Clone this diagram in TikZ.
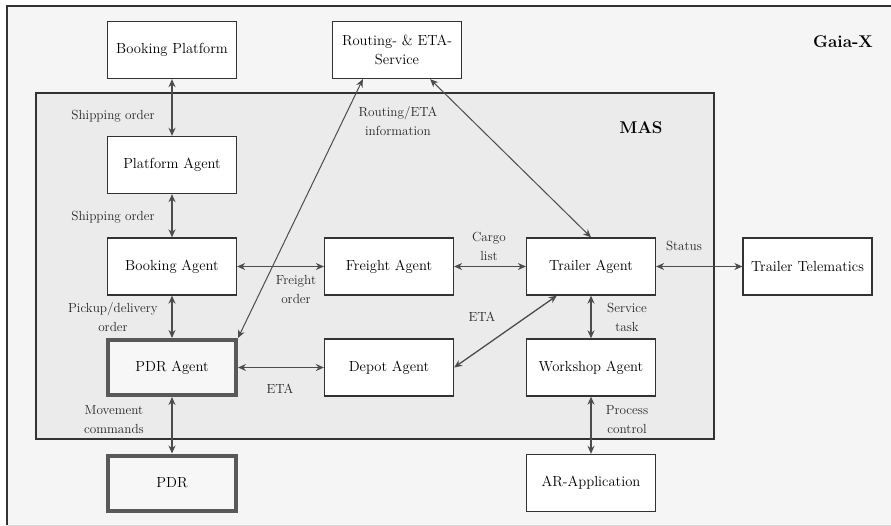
\documentclass[tikz,border=0pt]{standalone}
\usetikzlibrary{arrows.meta}
\begin{document}
\begin{tikzpicture}[x=1pt,y=-1pt,
  box/.style={draw=black!80, line width=1.3pt, fill=white, minimum width=129pt, minimum height=57pt, inner sep=2pt, align=center, font=\fontsize{14.6}{19}\selectfont},
  thickbox/.style={box, draw=black!65, line width=4pt, fill=black!3, minimum width=128pt, minimum height=55pt},
  lbl/.style={align=center, font=\fontsize{13.2}{19}\selectfont, text=black!85, inner sep=0pt},
  ttl/.style={font=\fontsize{17}{20}\selectfont\bfseries, inner sep=0pt},
  bi/.style={{Stealth[length=8pt,width=7pt]}-{Stealth[length=8pt,width=7pt]}, draw=black!70, line width=1.6pt},
  bithin/.style={bi, line width=0.8pt}]
\useasboundingbox (0,0) rectangle (891,526);
\clip (0,0) rectangle (891,526);
% Gaia-X frame
\fill[black!4] (7,6) rectangle (895,525);
\draw[black!80, line width=1.3pt] (895,6) -- (7,6) -- (7,525);
\draw[black!15, line width=1pt] (7,525) -- (895,525);
% MAS frame
\draw[fill=black!8, draw=black!80, line width=1.3pt] (36,93) rectangle (714,439);
\node[ttl] (gaia) at (843,42) {Gaia-X};
\node[ttl] (mas) at (641,128) {MAS};
% nodes
\node[box] (bp) at (172,50) {Booking Platform};
\node[box] (rs) at (397,50) {Routing- \& ETA-\\Service};
\node[box] (pa) at (172,165) {Platform Agent};
\node[box] (ba) at (172,266.5) {Booking Agent};
\node[box] (fa) at (389,266.5) {Freight Agent};
\node[box] (ta) at (591,266.5) {Trailer Agent};
\node[box] (tt) at (807.5,266.5) {Trailer Telematics};
\node[thickbox] (pdra) at (172,367.5) {PDR Agent};
\node[box] (da) at (389,367.5) {Depot Agent};
\node[box] (wa) at (591,367.5) {Workshop Agent};
\node[thickbox] (pdr) at (172,483) {PDR};
\node[box] (ar) at (591,483) {AR-Application};
% connectors
\draw[bi] (bp.south) -- (pa.north);
\draw[bi] (pa.south) -- (ba.north);
\draw[bi] (ba.south) -- (pdra.north);
\draw[bi] (pdra.south) -- (pdr.north);
\draw[bithin] (ba.east) -- (fa.west);
\draw[bithin] (fa.east) -- (ta.west);
\draw[bithin] (ta.east) -- (tt.west);
\draw[bi] (pdra.east) -- (da.west);
\draw[bithin, line width=1pt] ([xshift=31pt]rs.south west) -- (pdra.north east);
\draw[bithin, line width=1pt] ([xshift=-32pt]rs.south east) -- (ta.north);
\draw[bi, line width=1.3pt] (da.east) -- ([xshift=31pt]ta.south west);
\draw[bi] (ta.south) -- (wa.north);
\draw[bi] (wa.south) -- (ar.north);
% labels
\node[lbl] (l1) at (113,116) {Shipping order};
\node[lbl] (l2) at (113,217) {Shipping order};
\node[lbl] (l3) at (398,121) {Routing/ETA\\information};
\node[lbl] (l4) at (296,289) {Freight\\order};
\node[lbl] (l5) at (489,246.5) {Cargo\\list};
\node[lbl] (l6) at (684,246) {Status};
\node[lbl] (l7) at (482,317) {ETA};
\node[lbl] (l8) at (627,317.5) {Service\\task};
\node[lbl] (l9) at (113,317.5) {Pickup/delivery\\order};
\node[lbl] (l10) at (280,389) {ETA};
\node[lbl] (l11) at (114,419.5) {Movement\\commands};
\node[lbl] (l12) at (627,419.5) {Process\\control};
\end{tikzpicture}
\end{document}
